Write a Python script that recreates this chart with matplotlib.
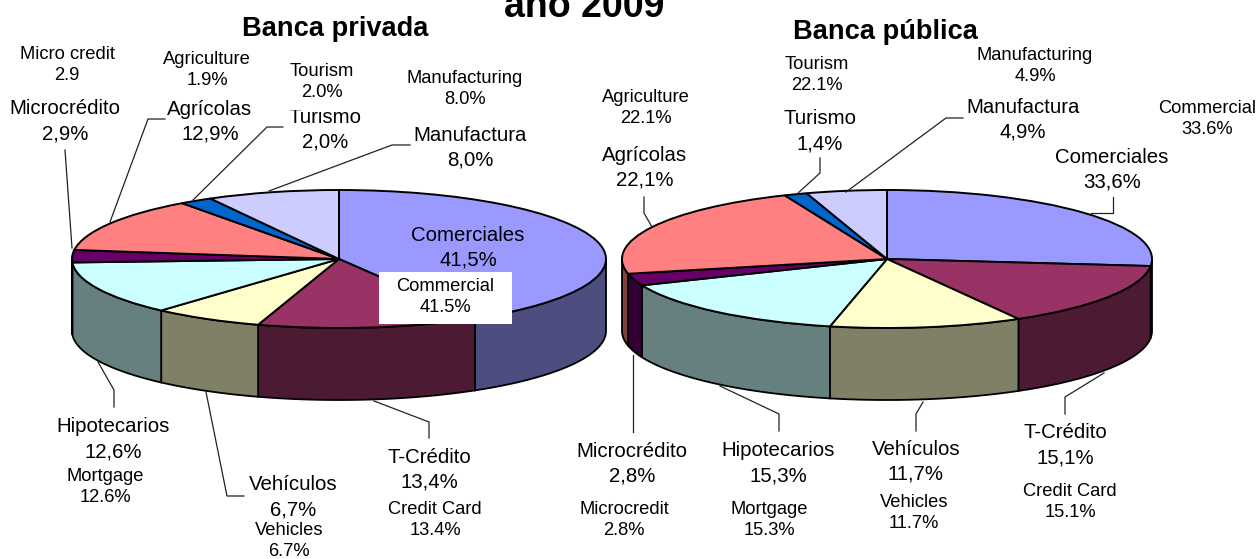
import numpy as np
import matplotlib
matplotlib.use("Agg")
import matplotlib.pyplot as plt
from matplotlib.patches import Rectangle

plt.rcParams['font.family'] = ['Liberation Sans', 'DejaVu Sans']

W, H = 1259, 559

# slice order: comercial, t-credito, vehiculos, hipotecario, micro, agricola, turismo, manufactura
privada = [41.5, 13.4, 6.7, 12.6, 2.9, 12.9, 2.0, 8.0]
# the commercial slice is drawn smaller than its printed 33.6 label
publica = [26.6, 15.1, 11.7, 15.3, 2.8, 22.1, 1.4, 4.9]

top_colors = ['#9999FF', '#993366', '#FFFFCC', '#CCFFFF', '#660066', '#FF8080', '#0066CC', '#CCCCFF']
side_colors = ['#4D4D80', '#4D1A33', '#808066', '#668080', '#330033', '#804040', '#003366', '#666680']

es_labels_priv = ['Comerciales\n41,5%', 'T-Crédito\n13,4%', 'Vehículos\n6,7%', 'Hipotecarios\n12,6%',
                  'Microcrédito\n2,9%', 'Agrícolas\n12,9%', 'Turismo\n2,0%', 'Manufactura\n8,0%']
en_labels_priv = ['Commercial\n41.5%', 'Credit Card\n13.4%', 'Vehicles\n6.7%', 'Mortgage\n12.6%',
                  'Micro credit\n2.9', 'Agriculture\n1.9%', 'Tourism\n2.0%', 'Manufacturing\n8.0%']
es_labels_pub = ['Comerciales\n33,6%', 'T-Crédito\n15,1%', 'Vehículos\n11,7%', 'Hipotecarios\n15,3%',
                 'Microcrédito\n2,8%', 'Agrícolas\n22,1%', 'Turismo\n1,4%', 'Manufactura\n4,9%']
en_labels_pub = ['Commercial\n33.6%', 'Credit Card\n15.1%', 'Vehicles\n11.7%', 'Mortgage\n15.3%',
                 'Microcredit\n2.8%', 'Agriculture\n22.1%', 'Tourism\n22.1%', 'Manufacturing\n4.9%']

# label centres in pixels, same order as the slices
es_pos_priv = [(468, 248), (429, 470), (293, 497), (113, 439), (65, 121), (210, 122), (325, 130), (470, 148)]
en_pos_priv = [(445, 297), (435, 520), (289, 541), (105, 487), (67, 65), (207, 70), (322, 82), (465, 89)]
es_pos_pub = [(1112, 170), (1065, 445), (916, 462), (778, 463), (632, 464), (645, 168), (820, 131), (1023, 120)]
en_pos_pub = [(1207, 119), (1070, 502), (914, 513), (769, 520), (624, 520), (646, 108), (817, 75), (1035, 66)]

leaders_priv = [
    [(65, 150), (72, 248)],
    [(165, 119), (148, 119), (110, 222)],
    [(283, 127), (267, 127), (193, 200)],
    [(410, 145), (392, 145), (269, 191)],
    [(114, 407), (114, 390), (98, 362)],
    [(244, 496), (227, 496), (206, 392)],
    [(429, 438), (429, 422), (374, 401)],
]
leaders_pub = [
    [(644, 197), (644, 213), (652, 227)],
    [(820, 158), (820, 173), (797, 194)],
    [(963, 118), (946, 118), (846, 192)],
    [(1113, 197), (1113, 213), (1091, 213)],
    [(633, 432), (633, 355)],
    [(779, 431), (779, 414), (720, 386)],
    [(916, 431), (916, 414), (923, 402)],
    [(1065, 414), (1065, 397), (1104, 373)],
]


def draw_pie(fig, values, cx, cy, rx, ry, depth):
    box = [(cx - rx) / W, 1 - (cy + ry + depth) / H, 2 * rx / W, (2 * ry + depth) / H]
    ax = fig.add_axes(box)
    d = depth / ry

    # front wall, clockwise angle from the top, only 90..270 can be seen
    edges = np.cumsum([0] + list(values)) / np.sum(values) * 360
    for i in range(len(values)):
        a, b = max(edges[i], 90), min(edges[i + 1], 270)
        if b <= a:
            continue
        t = np.radians(np.linspace(a, b, 60))
        xs = np.r_[np.sin(t), np.sin(t)[::-1]]
        ys = np.r_[np.cos(t), np.cos(t)[::-1] - d]
        ax.fill(xs, ys, facecolor=side_colors[i], edgecolor='black', linewidth=1.3, clip_on=False)

    ax.pie(values, colors=top_colors, startangle=90, counterclock=False, radius=1,
           wedgeprops={'edgecolor': 'black', 'linewidth': 1.4})
    ax.set_aspect('auto')
    ax.set_xlim(-1, 1)
    ax.set_ylim(-1 - d, 1)
    ax.axis('off')
    for p in ax.patches:
        p.set_clip_on(False)


fig = plt.figure(figsize=(W / 100, H / 100), dpi=100, facecolor='white')

draw_pie(fig, privada, 339, 259, 267, 69, 72)
draw_pie(fig, publica, 887, 259, 265, 69, 72)

over = fig.add_axes([0, 0, 1, 1], zorder=5)
over.set_xlim(0, W)
over.set_ylim(H, 0)
over.axis('off')
over.patch.set_alpha(0)

for line in leaders_priv + leaders_pub:
    over.plot([p[0] for p in line], [p[1] for p in line], color='#222222', lw=0.9, solid_joinstyle='miter')

ES_SIZE = 14.7
EN_SIZE = 13.2

for labels, pos in [(es_labels_priv, es_pos_priv), (es_labels_pub, es_pos_pub)]:
    for s, (x, y) in zip(labels, pos):
        over.text(x, y, s, fontsize=ES_SIZE, ha='center', va='center', linespacing=1.4, zorder=3)

# white boxes of the english labels, one cuts the top of "Turismo"
over.add_patch(Rectangle((379, 272), 133, 52, facecolor='white', edgecolor='none', zorder=4))
over.add_patch(Rectangle((285, 60), 75, 50, facecolor='white', edgecolor='none', zorder=4))

for labels, pos in [(en_labels_priv, en_pos_priv), (en_labels_pub, en_pos_pub)]:
    for s, (x, y) in zip(labels, pos):
        over.text(x, y, s, fontsize=EN_SIZE, ha='center', va='center', linespacing=1.26, zorder=5)

over.text(335, 29, 'Banca privada', fontsize=19.6, fontweight='bold', ha='center', va='center')
over.text(885, 32, 'Banca pública', fontsize=19.6, fontweight='bold', ha='center', va='center')
over.text(584, 7, 'año 2009', fontsize=27, fontweight='bold', ha='center', va='center')

fig.savefig('out.png', dpi=100, facecolor='white')
